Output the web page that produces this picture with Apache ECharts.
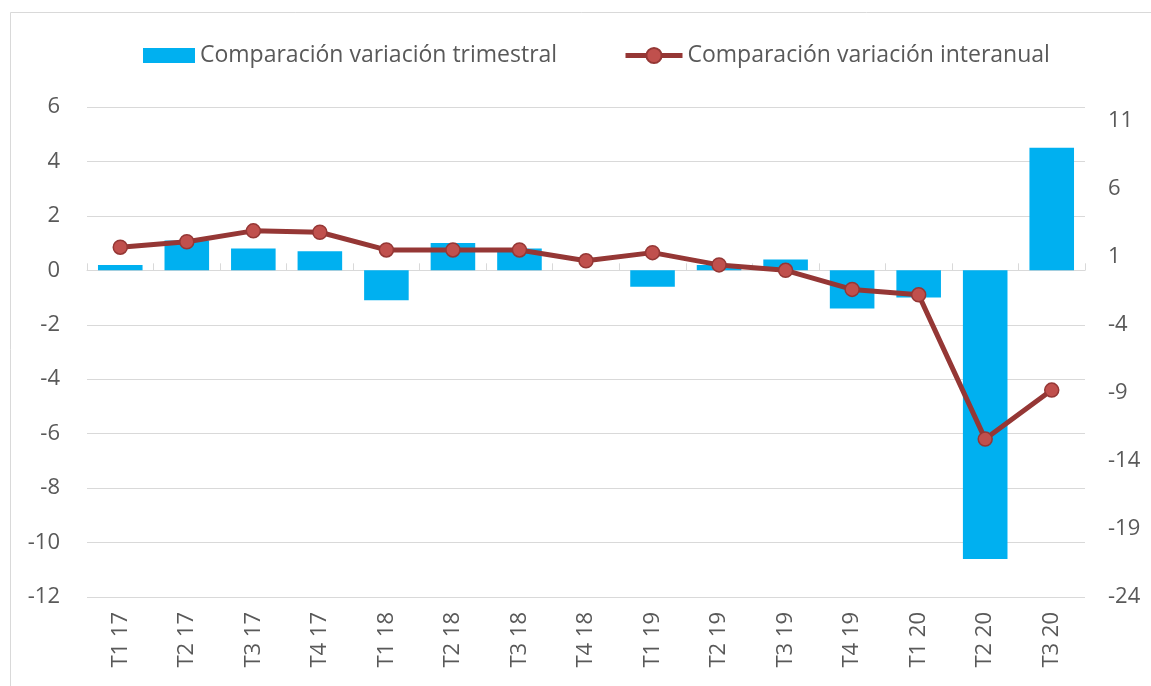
<!DOCTYPE html>
<html>
<head>
<meta charset="utf-8">
<script src="https://cdn.jsdelivr.net/npm/echarts@6/dist/echarts.min.js"></script>
<style>html,body{margin:0;padding:0;background:#fff;}#c{width:1151px;height:686px;}</style>
</head>
<body>
<div id="c"></div>
<script>
const categories = ['T1 17','T2 17','T3 17','T4 17','T1 18','T2 18','T3 18','T4 18','T1 19','T2 19','T3 19','T4 19','T1 20','T2 20','T3 20'];
const trimestral = [0.2, 1.1, 0.8, 0.7, -1.1, 1.0, 0.8, 0.0, -0.6, 0.2, 0.4, -1.4, -1.0, -10.6, 4.5];
const interanual = [1.7, 2.1, 2.9, 2.8, 1.5, 1.5, 1.5, 0.7, 1.3, 0.4, 0.0, -1.4, -1.8, -12.4, -8.8];
const leftTicks = [-12, -10, -8, -6, -4, -2, 0, 2, 4, 6];
const rightTicks = [-24, -19, -14, -9, -4, 1, 6, 11];
const nameTrim = 'Comparación variación trimestral';
const nameInter = 'Comparación variación interanual';

const FONT = 'Open Sans';
const FS = 22;
const FSL = 23;
const TXT = '#595959';
const GRID = '#d9d9d9';
const halfSlots = categories.flatMap(c => [c + 'a', c + 'b']);

const chart = echarts.init(document.getElementById('c'));
chart.setOption({
  animation: false,
  backgroundColor: '#fff',
  textStyle: { fontFamily: FONT },
  graphic: [{
    type: 'rect', shape: { x: 10.5, y: 12.5, width: 1300, height: 800 },
    style: { fill: 'none', stroke: GRID, lineWidth: 1 }, silent: true
  }],
  legend: [{
    left: 138, top: 39, data: [{ name: nameTrim, icon: 'rect' }], itemWidth: 52, itemHeight: 15,
    textStyle: { fontSize: FSL, color: TXT, fontFamily: FONT }
  }, {
    left: 618, top: 39, data: [nameInter], itemWidth: 57, itemHeight: 19,
    lineStyle: { width: 5, color: '#953735' },
    textStyle: { fontSize: FSL, color: TXT, fontFamily: FONT }
  }],
  grid: { left: 87, right: 66, top: 107, bottom: 89 },
  xAxis: [{
    type: 'category', data: categories, boundaryGap: true,
    axisLine: { show: false, onZero: false }, axisTick: { show: false },
    axisLabel: { rotate: 90, margin: 15, fontSize: FS, color: TXT, fontFamily: FONT }
  }, {
    type: 'category', data: halfSlots, boundaryGap: true,
    axisLine: { show: true, onZero: true, onZeroAxisIndex: 0, lineStyle: { color: GRID, width: 1 } },
    axisTick: { show: true, length: 7, lineStyle: { color: GRID } },
    axisLabel: { show: false }, splitLine: { show: false }
  }],
  yAxis: [{
    type: 'value', min: leftTicks[0], max: leftTicks[leftTicks.length - 1], interval: 2,
    axisLine: { show: false }, axisTick: { show: false },
    axisLabel: { margin: 27, fontSize: FS, color: TXT, fontFamily: FONT },
    splitLine: { show: true, lineStyle: { color: GRID, width: 1 } }
  }, {
    type: 'value', min: -24, max: 12, position: 'right',
    axisLine: { show: false }, axisTick: { show: false },
    axisLabel: { customValues: rightTicks, margin: 23, fontSize: FS, color: TXT, fontFamily: FONT },
    splitLine: { show: false }
  }],
  series: [{
    name: nameTrim, type: 'bar', xAxisIndex: 0, yAxisIndex: 0,
    data: trimestral, barWidth: '67%',
    itemStyle: { color: '#00b0f0' }
  }, {
    name: nameInter, type: 'line', xAxisIndex: 0, yAxisIndex: 1,
    data: interanual, symbol: 'circle', symbolSize: 14, z: 5,
    lineStyle: { color: '#953735', width: 5 },
    itemStyle: { color: '#c0504d', borderColor: '#953735', borderWidth: 1.5 }
  }]
});
</script>
</body>
</html>
